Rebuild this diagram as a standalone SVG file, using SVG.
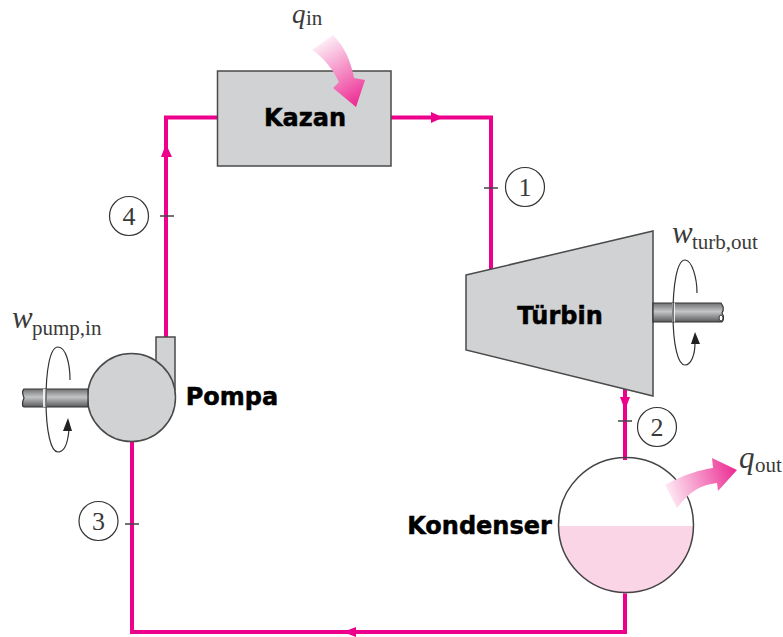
<svg xmlns="http://www.w3.org/2000/svg" width="783" height="637" viewBox="0 0 783 637">
<style>
.pipe{fill:none;stroke:#ec008c;stroke-width:4}
.tick{stroke:#444;stroke-width:1.4}
.arr{fill:#ec008c}
.eq{fill:#d0d2d3;stroke:#4a4a4a;stroke-width:1.5}
.lbl{font-family:"DejaVu Sans","Liberation Sans",sans-serif;font-weight:bold;font-size:24px;fill:#000;stroke:#000;stroke-width:.5;text-anchor:middle}
.num{font-family:"Liberation Serif","Times New Roman",serif;font-size:26px;fill:#3a3a3a;text-anchor:middle}
.circ{fill:#fff;stroke:#333;stroke-width:1.2}
.sym{font-family:"Liberation Serif","Times New Roman",serif;fill:#3a3a3a}
.big{font-size:31px;font-style:italic}
.bigq{font-size:27px;font-style:italic}
.sub{font-size:21px}
.rot{fill:none;stroke:#333;stroke-width:1.2}
.shaft{fill:url(#shaft);stroke:#333;stroke-width:1.2}
</style>
<defs>
<linearGradient id="shaft" x1="0" y1="0" x2="0" y2="1"><stop offset="0" stop-color="#6f7173"/><stop offset=".45" stop-color="#c4c5c7"/><stop offset="1" stop-color="#58595b"/></linearGradient>
<linearGradient id="qin" gradientUnits="userSpaceOnUse" x1="315" y1="38" x2="358" y2="105"><stop offset="0" stop-color="#fff"/><stop offset="1" stop-color="#ec2a92"/></linearGradient>
<linearGradient id="qout" gradientUnits="userSpaceOnUse" x1="660" y1="495" x2="737" y2="470"><stop offset="0" stop-color="#fff"/><stop offset="1" stop-color="#ec2a92"/></linearGradient>
</defs>
<g id="connectors">
<path class="pipe" d="M218 117.500H166V340"/>
<path class="pipe" d="M391 117.500H491V270"/>
<path class="pipe" d="M625 389V460"/>
<path class="pipe" d="M625 592V632H132V440"/>
<path class="arr" d="M431 112L443 117.500L431 123Z"/>
<path class="arr" d="M161 157L166 144L172 157Z"/>
<path class="arr" d="M620 397L625 410L630 397Z"/>
<path class="arr" d="M356 627L343 632L356 637Z"/>
<path class="tick" d="M484 188H498M160 216H174M618 421H632M125 524H139"/>
</g>
<g id="kazan">
<rect class="eq" x="217.500" y="71" width="173.500" height="95"/>
<text class="lbl" x="305" y="126">Kazan</text>
</g>
<g id="q-in">
<path fill="url(#qin)" d="M312 50L333 35C345 47 351 62 354 78L365 80L356 107L333 88L339 82C332 68 323 57 312 50Z"/>
<text class="sym bigq" x="292" y="23">q</text><text class="sym sub" x="306" y="25">in</text>
</g>
<g id="turbin">
<path class="eq" d="M466 275L653 231V396L466 350Z"/>
<text class="lbl" x="560" y="324">Türbin</text>
</g>
<g id="w-turb">
<path class="shaft" d="M653 303H721C724 307 724 310 722 313C725 317 723 322 721 322H653Z"/>
<ellipse cx="721" cy="318" rx="2" ry="3" fill="#fff" stroke="#333"/>
<path d="M672 303h3v19h-3z" fill="#fff" opacity=".8"/>
<path class="rot" d="M697 293C697 278 692 260 685 260C677 260 673 285 673 314C673 345 678 365 685 365C691 365 695 355 695 343"/>
<path fill="#222" d="M691 344L695 332L700 344Z"/>
<text class="sym big" x="672" y="243">w</text><text class="sym sub" x="692" y="249">turb,out</text>
</g>
<g id="pompa">
<path class="eq" d="M156 337H175V390H156Z"/>
<circle class="eq" cx="131.500" cy="397.500" r="44"/>
<text class="lbl" x="232" y="405">Pompa</text>
</g>
<g id="w-pump">
<path class="shaft" d="M88 389H24C21 392 23 394 24 398C22 402 22 407 24 407H88Z"/>
<path d="M43 389h4v18h-4z" fill="#fff" opacity=".8"/>
<path class="rot" d="M70 380C70 364 66 347 58 347C50 347 46 370 46 400C46 432 51 452 58 452C65 452 68 442 69 429"/>
<path fill="#222" d="M63 431L68 418L72 431Z"/>
<text class="sym big" x="12" y="328">w</text><text class="sym sub" x="32" y="335">pump,in</text>
</g>
<g id="kondenser">
<path fill="#f9d5e6" d="M558.500 526H693.500A67.500 67.500 0 0 1 558.500 526Z"/>
<circle cx="626" cy="525" r="67.500" fill="none" stroke="#444" stroke-width="1.500"/>
<text class="lbl" x="479.500" y="534">Kondenser</text>
</g>
<g id="q-out">
<path fill="url(#qout)" d="M665 485C685 474 700 470 713 468L712 458L737 470L718 491L717 483C700 485 689 492 677 508Z"/>
<text class="sym big" x="739" y="468">q</text><text class="sym sub" x="755" y="472">out</text>
</g>
<g id="state-1"><circle class="circ" cx="525" cy="187" r="19.500"/><text class="num" x="525" y="196">1</text></g>
<g id="state-2"><circle class="circ" cx="657" cy="427" r="19.500"/><text class="num" x="657" y="436">2</text></g>
<g id="state-3"><circle class="circ" cx="98.500" cy="521" r="19.500"/><text class="num" x="98.500" y="530">3</text></g>
<g id="state-4"><circle class="circ" cx="129" cy="216" r="19.500"/><text class="num" x="129" y="225">4</text></g>
</svg>
